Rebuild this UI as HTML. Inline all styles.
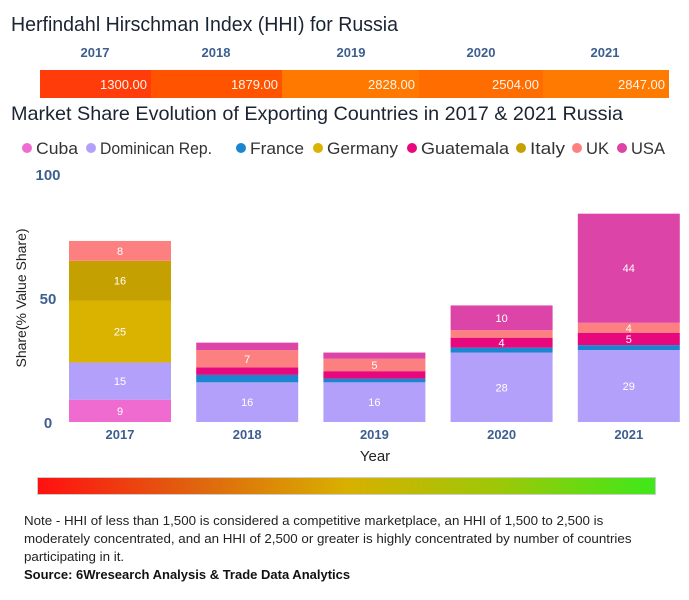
<!DOCTYPE html>
<html><head><meta charset="utf-8"><style>
body{margin:0;background:#fff;font-family:"Liberation Sans",sans-serif;}
#wrap{position:relative;width:689px;height:600px;overflow:hidden;}
.nl{position:absolute;left:24px;font-size:13.35px;color:#222;white-space:nowrap;}
</style></head><body>
<div id="wrap">
<svg id="hhi" width="689" height="100" style="position:absolute;left:0;top:0"></svg>
<svg id="chart" width="689" height="470" style="position:absolute;left:0;top:0"></svg>
<div style="position:absolute;left:37px;top:477px;width:619px;height:18px;background:linear-gradient(to right,#ff1010,#e0620f 25%,#d8b000 50%,#9cc808 75%,#3ee81a);border:1px solid #ccc;box-sizing:border-box"></div>
<div class="nl" style="top:513px">Note - HHI of less than 1,500 is considered a competitive marketplace, an HHI of 1,500 to 2,500 is</div>
<div class="nl" style="top:531px">moderately concentrated, and an HHI of 2,500 or greater is highly concentrated by number of countries</div>
<div class="nl" style="top:549px">participating in it.</div>
<div class="nl" style="top:567px;font-weight:bold;color:#111;font-size:13px">Source: 6Wresearch Analysis &amp; Trade Data Analytics</div>
</div>
<script>
const NS='http://www.w3.org/2000/svg';
function mk(p,tag,a,txt){const e=document.createElementNS(NS,tag);for(const k in a)e.setAttribute(k,a[k]);if(txt!==undefined)e.textContent=txt;p.appendChild(e);return e;}
// HHI data
const hhiYears=['2017','2018','2019','2020','2021'];
const hhiValues=[1300,1879,2828,2504,2847];
const hhiColors=['#ff3c0a','#ff5300','#ff7800','#ff6c00','#ff7a00'];
const hhiEdges=[40,151,282,419,543,669];
const hs=document.getElementById('hhi');
const t1=mk(hs,'text',{x:11,y:31,'font-size':20,fill:'#1a2433',textLength:387,lengthAdjust:'spacingAndGlyphs'},'Herfindahl Hirschman Index (HHI) for Russia');


hhiYears.forEach((y,i)=>{
  const x0=hhiEdges[i],x1=hhiEdges[i+1];
  const r=mk(hs,'rect',{x:x0,y:70,width:x1-x0,height:28,fill:hhiColors[i]});
  
  
  const v=mk(hs,'text',{x:x1-4,y:89,'text-anchor':'end','font-size':13,fill:'#fff5ea'},hhiValues[i].toFixed(2));
  
  
  const yl=mk(hs,'text',{x:[95,216,351,481,605][i],y:57,'text-anchor':'middle','font-size':13,'font-weight':'bold',fill:'#3d5f8f'},y);
  
  
});
// Chart data
const years=['2017','2018','2019','2020','2021'];
const seriesNames=['Cuba','Dominican Rep.','France','Germany','Guatemala','Italy','UK','USA'];
const seriesColors=['#f06bd0','#b3a0fb','#1a86d0','#dab200','#e8087e','#c4a000','#fd8080','#dd44a8'];
const cuba=[9,0,0,0,0];
const dominican=[15,16,16,28,29];
const france=[0,3,1.5,2,2];
const germany=[25,0,0,0,0];
const guatemala=[0,3,3,4,5];
const italy=[16,0,0,0,0];
const uk=[8,7,5,3,4];
const usa=[0,3,2.5,10,44];
const series=[cuba,dominican,france,germany,guatemala,italy,uk,usa];
const yTicks=[0,50,100];
const cs=document.getElementById('chart');
const t2=mk(cs,'text',{x:11,y:120,'font-size':19.5,fill:'#1a2433',textLength:612,lengthAdjust:'spacingAndGlyphs'},'Market Share Evolution of Exporting Countries in 2017 & 2021 Russia');


const yScale=v=>422-v*2.48;
const xLeft=i=>69+i*127.2;
const bw=102;
// legend
const legX=[27,91,241,318,412,521,577,622];
const legTW=[42,112,54,71,88,35,23,34];
seriesNames.forEach((n,i)=>{
  const g=mk(cs,'g',{});
  
  
  mk(g,'circle',{cx:legX[i],cy:148,r:5,fill:seriesColors[i]});
  mk(g,'text',{x:legX[i]+9,y:154,'font-size':17,fill:'#333',textLength:legTW[i],lengthAdjust:'spacingAndGlyphs'},n);
});
// y ticks
yTicks.forEach(t=>{
  const e=mk(cs,'text',{x:48,y:yScale(t)+6,'text-anchor':'middle','font-size':15,'font-weight':'bold',fill:'#3d5f8f'},t);
  
  
});
const yt=mk(cs,'text',{x:0,y:0,'font-size':14,fill:'#222','text-anchor':'middle',transform:'translate(26,298) rotate(-90)'},'Share(% Value Share)');


const xt=mk(cs,'text',{x:375,y:461,'font-size':15,fill:'#222','text-anchor':'middle'},'Year');


years.forEach((y,i)=>{
  let acc=0;
  series.forEach((s,k)=>{
    const v=s[i]; if(!v) return;
    const y0=yScale(acc),y1=yScale(acc+v);
    const r=mk(cs,'rect',{x:xLeft(i),y:y1,width:bw,height:y0-y1,fill:seriesColors[k]});
    
    
    if(v>=4){
      const l=mk(cs,'text',{x:xLeft(i)+bw/2,y:(y0+y1)/2+4,'text-anchor':'middle','font-size':11,fill:'#fff'},Math.round(v));
      
      
    }
    acc+=v;
  });
  const xl=mk(cs,'text',{x:xLeft(i)+bw/2,y:439,'text-anchor':'middle','font-size':13,'font-weight':'bold',fill:'#3d5f8f'},y);
  
  
});
</script>
</body></html>
